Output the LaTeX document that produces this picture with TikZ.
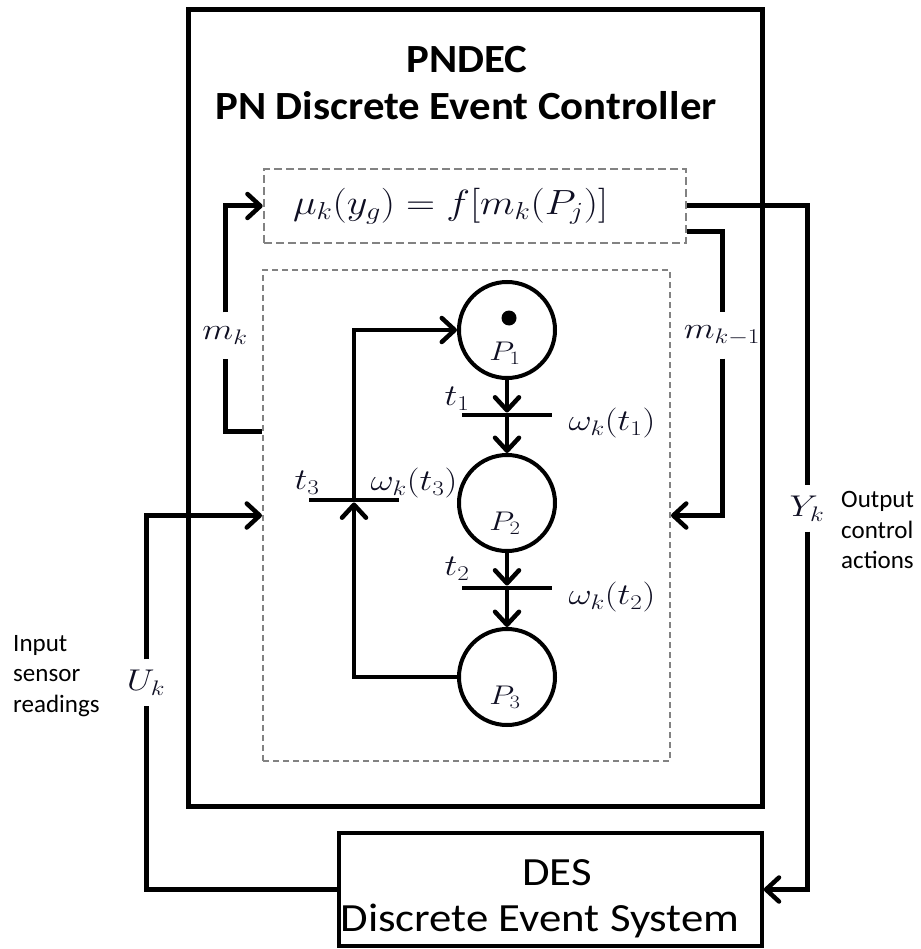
\RequirePackage{fix-cm}
\documentclass[tikz,border=0pt]{standalone}
\usepackage{fontspec}
\setmainfont{Carlito}
\newfontfamily\titlefont[FakeStretch=1.07]{Carlito}
\newfontfamily\desfont[FakeStretch=1.12]{Carlito}
\usetikzlibrary{arrows.meta,calc}
\definecolor{mathc}{RGB}{15,15,35}
\definecolor{dashgray}{RGB}{130,130,130}
\newcommand{\wm}[1]{\scalebox{1.2}[1]{$#1$}}
\begin{document}
\begin{tikzpicture}[x=1pt,y=-1pt,
  ctrlbox/.style={draw,line width=5pt,inner sep=0pt},
  desbox/.style={draw,line width=3.5pt,inner sep=0pt},
  formbox/.style={draw=dashgray,line width=2.6pt,dash pattern=on 8pt off 4pt,inner xsep=29pt,inner ysep=0pt},
  netbox/.style={draw=dashgray,line width=2pt,dash pattern=on 6pt off 4pt,inner sep=0pt},
  place/.style={circle,draw,line width=4pt,minimum size=96pt,inner sep=0pt},
  tbar/.style={rectangle,fill=black,minimum width=90pt,minimum height=4.5pt,inner sep=0pt},
  tok/.style={circle,fill=black,minimum size=15pt,inner sep=0pt},
  tip/.style={-{Straight Barb[length=13pt,width=24pt,line width=4.5pt,round]}},
  flow/.style={line width=5pt,tip},
  arc/.style={line width=4.5pt,tip},
  mlab/.style={text=mathc,font=\fontsize{30}{36}\selectfont,inner sep=0pt},
  gaplab/.style={mlab,minimum height=46pt,minimum width=10pt},
  plab/.style={text=mathc,font=\fontsize{27}{32}\selectfont,inner sep=0pt},
  titletext/.style={font=\titlefont\fontsize{40}{46}\selectfont\bfseries,inner sep=0pt},
  destext/.style={font=\desfont\fontsize{40}{46}\selectfont,inner sep=0pt},
  sidetext/.style={font=\fontsize{25}{30.5}\selectfont,align=left,inner sep=0pt},
]
\useasboundingbox (0,0) rectangle (920,949);

% boxes
\node[ctrlbox,minimum width=574pt,minimum height=796pt] (ctrl) at (475,408) {};
\node[formbox,minimum height=74pt,text width=364pt,align=left] (form) at (475,206)
  {\fontsize{35}{40}\selectfont\color{mathc}\scalebox{1.15}[1]{$\mu_k(y_g)=f[m_k(P_j)]$}};
\node[netbox,minimum width=407pt,minimum height=491pt] (net) at (466.5,515.5) {};
\node[desbox,minimum width=423pt,minimum height=113pt] (des) at (550.5,889.5) {};

% titles
\node[titletext,anchor=base] (ttl1) at (467,73) {PNDEC};
\node[titletext,anchor=base] (ttl2) at (466,120) {PN Discrete Event Controller};
\node[destext,anchor=base] (dest1) at (557,885) {DES};
\node[destext,anchor=base] (dest2) at (540,931) {Discrete Event System};

% side texts
\node[sidetext,anchor=west] (intext) at (13,676) {Input\\sensor\\readings};
\node[sidetext,anchor=west] (outtext) at (841,530) {Output\\control\\actions};

% labels on feedback lines
\node[gaplab] (mkl) at (225,335.5) {\wm{m_k}};
\node[gaplab] (mk1l) at (722,335.5) {\wm{m_{k-1}}};
\node[gaplab] (ykl) at (807,508.5) {\wm{Y_k}};
\node[gaplab] (ukl) at (146,682.5) {\wm{U_k}};

% Petri net
\node[place] (P1) at (507,330) {};
\node[place] (P2) at (507,503) {};
\node[place] (P3) at (507,677) {};
\node[tok] (tk) at (509,318) {};
\node[plab] (P1l) at (505,353) {\wm{P_1}};
\node[plab] (P2l) at (505,523) {\wm{P_2}};
\node[plab] (P3l) at (505,697) {\wm{P_3}};

\node[tbar] (T1) at (507,415) {};
\node[tbar] (T2) at (507,588) {};
\node[tbar] (T3) at (354,500) {};

\node[mlab] (T1l) at (457,399) {\wm{t_1}};
\node[mlab] (T2l) at (457,569) {\wm{t_2}};
\node[mlab] (T3l) at (307,483) {\wm{t_3}};
\node[mlab] (W1) at (612,423) {\wm{\omega_k(t_1)}};
\node[mlab] (W2) at (612,597) {\wm{\omega_k(t_2)}};
\node[mlab] (W3) at (414,483) {\wm{\omega_k(t_3)}};

\draw[arc] (P1) -- (T1);
\draw[arc] (T1) -- (P2);
\draw[arc] (P2) -- (T2);
\draw[arc] (T2) -- (P3);
\draw[arc] (P3) -| (T3);
\draw[arc] (T3) |- (P1);

% feedback connectors
\coordinate (mkfrom) at ($(net.north west)+(0,162)$);
\coordinate (mk1from) at ($(form.south east)+(0,-13)$);
\draw[flow] (mkfrom) -| (mkl) |- (form.west);
\draw[flow] (mk1from) -| (mk1l) |- (net.east);
\draw[flow] (form.east) -| (ykl) |- (des.east);
\draw[flow] (des.west) -| (ukl) |- (net.west);
\end{tikzpicture}
\end{document}
